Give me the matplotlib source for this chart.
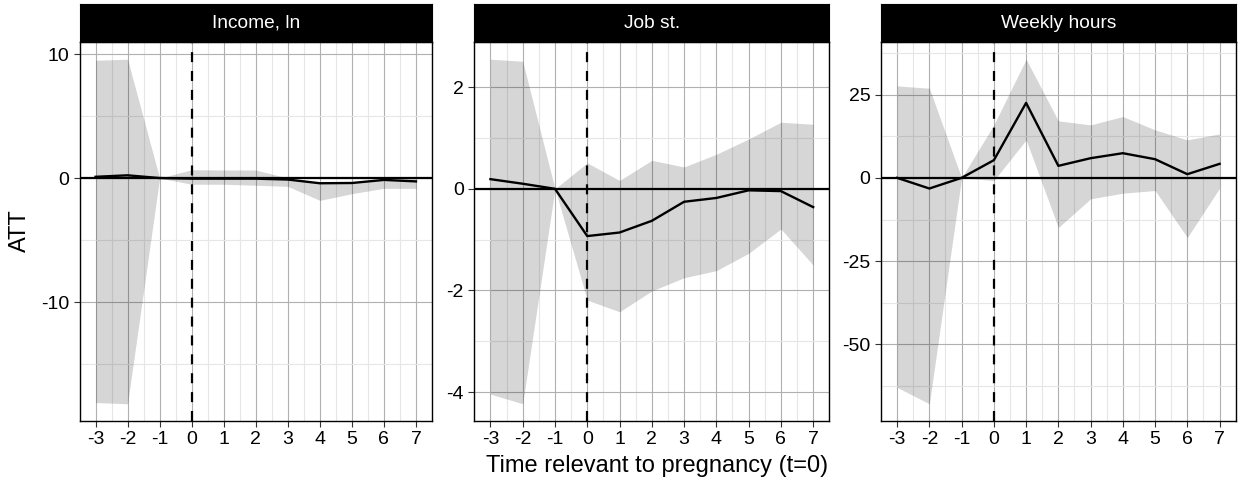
import matplotlib
matplotlib.use('Agg')
import matplotlib.pyplot as plt
from matplotlib.ticker import MultipleLocator

plt.rcParams['font.family'] = ['Liberation Sans', 'DejaVu Sans']
plt.rcParams['axes.unicode_minus'] = False

# Data
periods = [-3, -2, -1, 0, 1, 2, 3, 4, 5, 6, 7]

income_att = [0.1, 0.22, 0, -0.05, -0.05, -0.05, -0.12, -0.42, -0.4, -0.15, -0.27]
income_hi = [9.5, 9.58, 0, 0.67, 0.65, 0.65, 0.0, -0.35, -0.35, -0.05, -0.05]
income_lo = [-18.1, -18.2, 0, -0.5, -0.5, -0.58, -0.67, -1.8, -1.26, -0.83, -0.83]

job_att = [0.19, 0.1, 0, -0.93, -0.86, -0.63, -0.255, -0.18, -0.03, -0.045, -0.36]
job_hi = [2.55, 2.51, 0, 0.51, 0.165, 0.56, 0.43, 0.68, 0.98, 1.31, 1.27]
job_lo = [-4.04, -4.23, 0, -2.19, -2.42, -2.01, -1.75, -1.61, -1.27, -0.79, -1.5]

hours_att = [0, -3.2, 0, 5.3, 22.5, 3.6, 5.9, 7.4, 5.6, 1.1, 4.2]
hours_hi = [27.6, 26.9, 0, 15.9, 35.6, 17.1, 15.9, 18.4, 14.4, 11.4, 13.2]
hours_lo = [-62.9, -67.8, 0, -0.8, 11.4, -14.9, -6.3, -4.6, -3.8, -17.9, -3.1]

titles = ['Income, ln', 'Job st.', 'Weekly hours']
y_major = [10, 2, 25]
panels = [(income_att, income_lo, income_hi),
          (job_att, job_lo, job_hi),
          (hours_att, hours_lo, hours_hi)]

W, H = 1248, 483
fig = plt.figure(figsize=(W / 100, H / 100), dpi=100)

lefts = [79.5, 474.3, 881.0]
right_edges = [432.0, 829.3, 1235.7]
top, bottom, strip_top = 42, 421, 4

for i, (att, lo, hi) in enumerate(panels):
    l = lefts[i] / W
    w = (right_edges[i] - lefts[i]) / W
    ax = fig.add_axes([l, 1 - bottom / H, w, (bottom - top) / H])

    ax.fill_between(periods, lo, hi, color='black', alpha=0.16, lw=0, zorder=2)
    ax.axhline(0, color='black', lw=1.6, zorder=3)
    ax.axvline(0, color='black', lw=1.6, ls=(0, (4.5, 4)), zorder=4)
    ax.plot(periods, att, color='black', lw=1.7, zorder=5)

    ymin = min(lo)
    ymax = max(hi)
    pad = (ymax - ymin) * 0.05

    ax.set_xticks(periods)
    ax.set_xticklabels([str(p) for p in periods])
    ax.xaxis.set_minor_locator(MultipleLocator(0.5))
    ax.yaxis.set_major_locator(MultipleLocator(y_major[i]))
    ax.yaxis.set_minor_locator(MultipleLocator(y_major[i] / 2))
    ax.set_xlim(-3.5, 7.5)
    ax.set_ylim(ymin - pad, ymax + pad)

    ax.grid(which='major', color='#b0b0b0', lw=0.8, zorder=0)
    ax.grid(which='minor', color='#e6e6e6', lw=0.8, zorder=0)
    ax.set_axisbelow(True)
    ax.tick_params(which='major', direction='out', length=4, width=0.8,
                   color='#333333', labelsize=14, pad=3.5, labelcolor='black')
    ax.tick_params(which='minor', length=0)
    for sp in ax.spines.values():
        sp.set_color('black')
        sp.set_linewidth(1.0)

    # black facet strip
    sax = fig.add_axes([l, 1 - top / H, w, (top - strip_top) / H])
    sax.set_facecolor('black')
    sax.set_xticks([])
    sax.set_yticks([])
    for sp in sax.spines.values():
        sp.set_color('black')
    sax.text(0.5, 0.5, titles[i], color='white', fontsize=13.8,
             ha='center', va='center', transform=sax.transAxes)

fig.text(20 / W, 1 - 231 / H, 'ATT', rotation=90, fontsize=17,
         ha='center', va='center')
fig.text(657 / W, 1 - 466 / H, 'Time relevant to pregnancy (t=0)',
         fontsize=17, ha='center', va='center')

fig.savefig('out.png', dpi=100)
